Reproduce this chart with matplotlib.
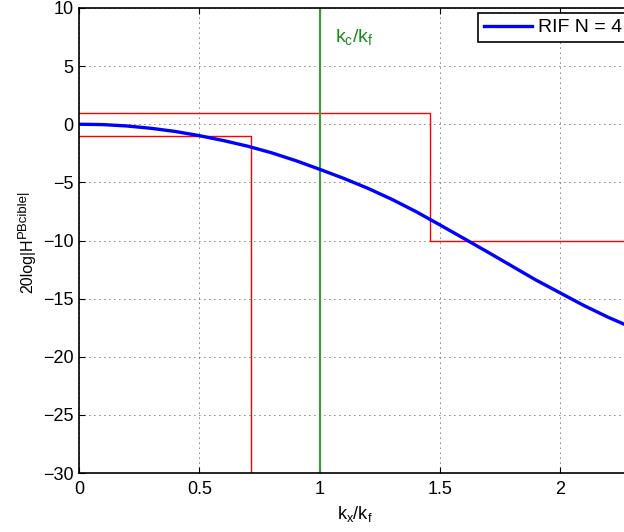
import numpy as np
import matplotlib
matplotlib.use('Agg')
import matplotlib.pyplot as plt

plt.rcParams['font.family'] = ['Liberation Sans', 'DejaVu Sans']
plt.rcParams['mathtext.default'] = 'regular'

# courbe RIF N = 4
kx = [0.0, 0.1, 0.2, 0.3, 0.4, 0.5, 0.6, 0.7, 0.8, 0.9, 1.0, 1.1, 1.2,
      1.3, 1.4, 1.5, 1.6, 1.7, 1.8, 1.9, 2.0, 2.1, 2.2, 2.3]
gain_db = [0.0, -0.03, -0.15, -0.35, -0.62, -0.98, -1.40, -1.88, -2.45,
           -3.12, -3.87, -4.65, -5.5, -6.45, -7.5, -8.65, -9.82, -11.0,
           -12.2, -13.4, -14.5, -15.6, -16.6, -17.5]

# gabarit
gab_haut_x = [0, 1.46, 1.46, 2.6]
gab_haut_y = [1, 1, -10, -10]
gab_bas_x = [0, 0.715, 0.715]
gab_bas_y = [-1, -1, -30]
kc = 1.0

fig = plt.figure(figsize=(6.24, 5.32), dpi=100)
# l'axe deborde un peu a droite de l'image (comme l'original recadre)
ax = fig.add_axes([79/624, 1-473/532, 552/624, 465/532])

ax.plot(gab_haut_x, gab_haut_y, color='red', lw=1)
ax.plot(gab_bas_x, gab_bas_y, color='red', lw=1)
ax.axvline(kc, color='#3f9a3f', lw=1.6)
l, = ax.plot(kx, gain_db, color='blue', lw=2.4, label='RIF N = 4')

ax.set_xlim(0, 552/240.5)
ax.set_ylim(-30, 10)
ax.set_xticks([0, 0.5, 1, 1.5, 2])
ax.set_xticklabels(['0', '0.5', '1', '1.5', '2'])
ax.set_yticks(range(-30, 11, 5))
ax.set_yticklabels(['\u221230', '\u221225', '\u221220', '\u221215', '\u221210', '\u22125', '0', '5', '10'])
ax.tick_params(direction='in', top=True, right=False, labelsize=13, length=4, width=0.8)
ax.tick_params(axis='x', pad=6)
ax.tick_params(axis='y', pad=4)
ax.grid(True, color='black', linestyle=(0, (1, 5)), lw=0.6)
for s in ['left', 'bottom', 'top']:
    ax.spines[s].set_linewidth(1.2)
ax.spines['right'].set_visible(False)

ax.text(1.064, 7.05, '$k_c/k_f$', color='#1a8a1a', fontsize=14, va='baseline')
ax.set_xlabel('$k_x/k_f$', fontsize=13, labelpad=4)

# ylabel en deux morceaux (exposant presque pleine taille comme dans matlab)
t1 = fig.text(35/624, 1-293/532, '20log|H', rotation=90, fontsize=11.5,
              ha='right', va='bottom')
fig.canvas.draw()
bb = t1.get_window_extent()
fig.text(29/624, (bb.y1 + 1)/532, 'PBcible|', rotation=90, fontsize=9.5,
         ha='right', va='bottom')

leg = fig.legend(handles=[l], loc='upper left', bbox_to_anchor=(478/624, 1-13/532),
                 fontsize=14, fancybox=False, edgecolor='black', framealpha=1,
                 borderpad=0.3, handlelength=2.5, handletextpad=0.3, borderaxespad=0)
leg.get_frame().set_linewidth(1.2)

fig.savefig('out.png', dpi=100)
